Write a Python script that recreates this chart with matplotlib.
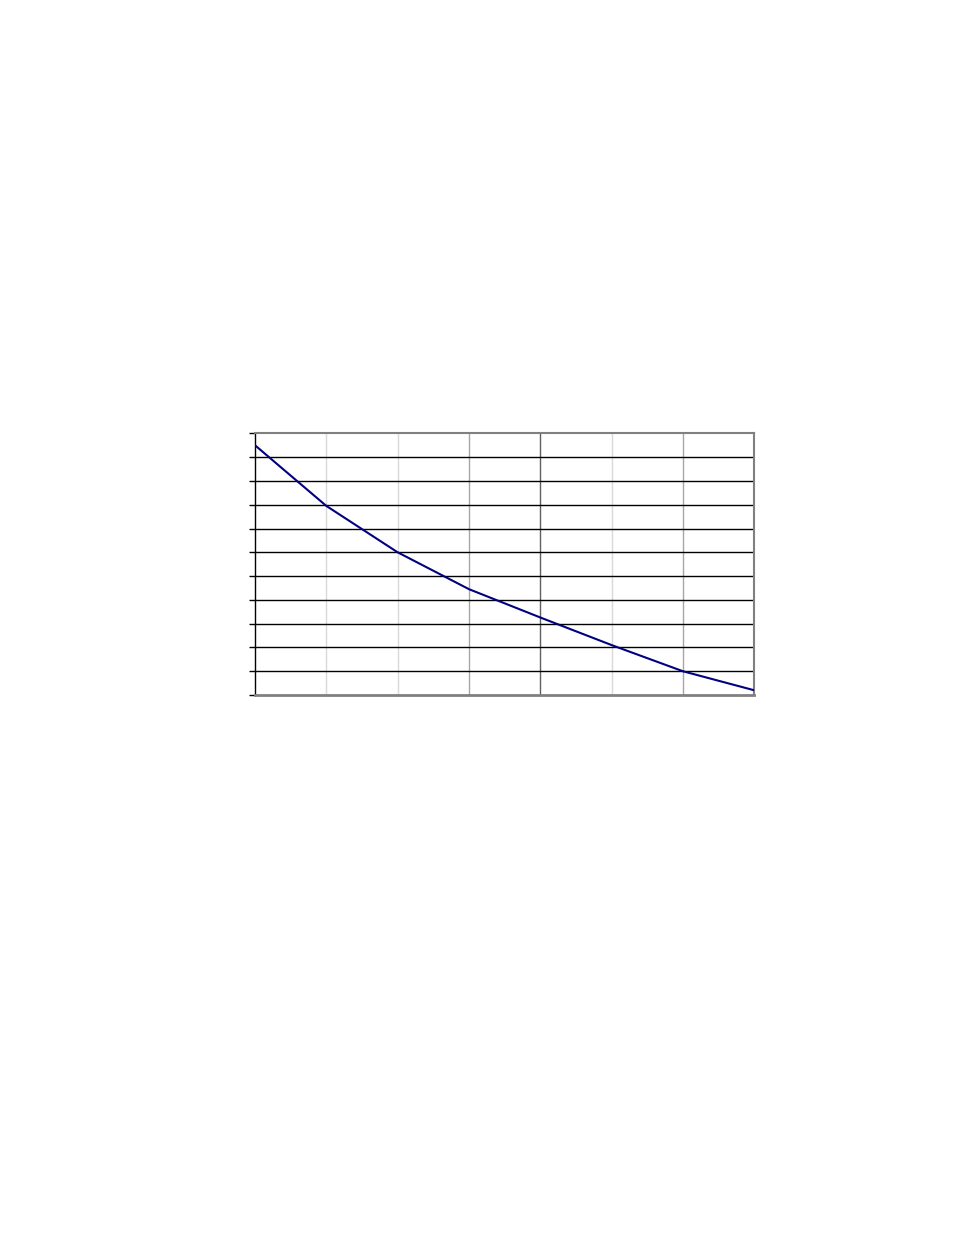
import matplotlib
matplotlib.use('Agg')
from matplotlib import pyplot as plt

# data (no axis labels shown)
x_pos = [0, 1, 2, 3, 4, 5, 6, 7]
values = [10.5, 7.95, 6.0, 4.45, 3.26, 2.1, 1.0, 0.2]
y_ticks = list(range(0, 12))
vgrid_colors = ['#d9d9d9', '#d9d9d9', '#a6a6a6', '#5f5f5f', '#d9d9d9', '#a6a6a6']

fig = plt.figure(figsize=(9.54, 12.35), dpi=100)
ax = fig.add_axes([0.2673, 0.4372, 0.5234, 0.2119])

for i, c in enumerate(vgrid_colors):
    ax.axvline(x_pos[i + 1], color=c, lw=1, zorder=1)
for yv in y_ticks[1:-1]:
    ax.axhline(yv, color='black', lw=1, zorder=1)

ax.plot(x_pos, values, color='#000080', lw=1.5, zorder=3)

ax.set_xlim(0, 7)
ax.set_ylim(0, 11)
ax.set_xticks([])
ax.set_yticks(y_ticks)
ax.set_yticklabels([])
ax.tick_params(axis='y', direction='out', length=4, width=1, color='black')

ax.spines['left'].set_color('black')
ax.spines['left'].set_linewidth(1)
for s in ['top', 'right']:
    ax.spines[s].set_color('#808080')
    ax.spines[s].set_linewidth(1.5)
ax.spines['bottom'].set_color('#808080')
ax.spines['bottom'].set_linewidth(2)

plt.savefig('out.png', dpi=100)
plt.close(fig)
